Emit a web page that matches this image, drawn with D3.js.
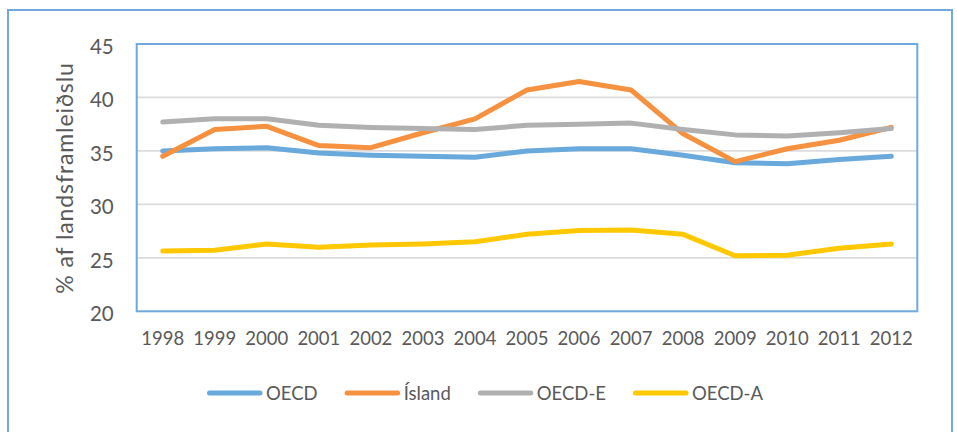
<!DOCTYPE html>
<html>
<head>
<meta charset="utf-8">
<script src="https://cdn.jsdelivr.net/npm/d3@7/dist/d3.min.js"></script>
<style>
  html, body { margin: 0; padding: 0; background: #fff; }
  svg { display: block; font-family: Lato, "Open Sans", sans-serif; }
</style>
</head>
<body>
<svg id="chart" width="957" height="432"></svg>
<script>
// Skatttekjur sem hlutfall af landsframleiðslu, 1998–2012
const years = [1998, 1999, 2000, 2001, 2002, 2003, 2004, 2005, 2006, 2007, 2008, 2009, 2010, 2011, 2012];
const oecd   = [35.0, 35.2, 35.3, 34.8, 34.6, 34.5, 34.4, 35.0, 35.2, 35.2, 34.6, 33.9, 33.8, 34.2, 34.5];
const island = [34.5, 37.0, 37.3, 35.5, 35.3, 36.7, 38.0, 40.7, 41.5, 40.7, 36.6, 34.0, 35.2, 36.0, 37.2];
const oecdE  = [37.7, 38.0, 38.0, 37.4, 37.2, 37.1, 37.0, 37.4, 37.5, 37.6, 37.0, 36.5, 36.4, 36.7, 37.1];
const oecdA  = [25.65, 25.7, 26.3, 26.0, 26.2, 26.3, 26.5, 27.2, 27.55, 27.6, 27.2, 25.2, 25.25, 25.9, 26.3];
const yTicks = [20, 25, 30, 35, 40, 45];
const seriesNames = ["OECD", "Ísland", "OECD-E", "OECD-A"];
const seriesValues = [oecd, island, oecdE, oecdA];
const seriesColors = ["#69a9dc", "#f5913f", "#b0b0b0", "#ffc800"];
const yTitle = "% af landsframleiðslu";

const svg = d3.select("#chart");
const frame = { left: 8, top: 10, right: 952, bottom: 440 };
const plot = { left: 136.7, right: 917.3, top: 44, bottom: 311.3 };
const textColor = "#595959";
const borderBlue = "#70a9dc";

// outer chart frame (runs off the bottom edge)
svg.append("rect")
  .attr("x", frame.left).attr("y", frame.top)
  .attr("width", frame.right - frame.left).attr("height", frame.bottom - frame.top)
  .attr("fill", "#fff").attr("stroke", borderBlue).attr("stroke-width", 2);

const x = d3.scaleBand().domain(years).range([plot.left, plot.right]);
const y = d3.scaleLinear().domain([20, 45]).range([plot.bottom, plot.top]);
const cx = d => x(d) + x.bandwidth() / 2;

// horizontal gridlines
svg.append("g").selectAll("line")
  .data(yTicks.filter(t => t > 20 && t < 45))
  .join("line")
  .attr("x1", plot.left).attr("x2", plot.right)
  .attr("y1", d => y(d)).attr("y2", d => y(d))
  .attr("stroke", "#dcdcdc").attr("stroke-width", 1.8);

// y axis labels
const yAxis = d3.axisLeft(y).tickValues(yTicks).tickSize(0).tickPadding(23);
const gy = svg.append("g").attr("transform", `translate(${plot.left},0)`).call(yAxis);
gy.select(".domain").remove();
gy.selectAll("text")
  .attr("fill", textColor).attr("font-size", 20.5)
  .attr("font-family", "Lato, sans-serif").attr("dy", "0.45em");

// x axis labels
const xAxis = d3.axisBottom(x).tickSize(0).tickPadding(21);
const gx = svg.append("g").attr("transform", `translate(0,${plot.bottom})`).call(xAxis);
gx.select(".domain").remove();
gx.selectAll("text")
  .attr("fill", textColor).attr("font-size", 18.5)
  .attr("font-family", "Lato, sans-serif");

// y axis title
svg.append("text")
  .attr("transform", `translate(73,178) rotate(-90)`)
  .attr("text-anchor", "middle")
  .attr("fill", textColor).attr("font-size", 23)
  .attr("letter-spacing", 0.9)
  .text(yTitle);

// series lines
const line = d3.line().x((d, i) => cx(years[i])).y(d => y(d));
svg.append("g").selectAll("path")
  .data(seriesValues)
  .join("path")
  .attr("d", line)
  .attr("fill", "none")
  .attr("stroke", (d, i) => seriesColors[i])
  .attr("stroke-width", 5)
  .attr("stroke-linejoin", "round")
  .attr("stroke-linecap", "round");

// plot area border
svg.append("rect")
  .attr("x", plot.left).attr("y", plot.top)
  .attr("width", plot.right - plot.left).attr("height", plot.bottom - plot.top)
  .attr("fill", "none").attr("stroke", borderBlue).attr("stroke-width", 2);

// legend, laid out left to right then centred
const legend = svg.append("g");
let cursor = 0;
seriesNames.forEach((name, i) => {
  const item = legend.append("g").attr("transform", `translate(${cursor},0)`);
  item.append("line")
    .attr("x1", 2.5).attr("x2", 53).attr("y1", 0).attr("y2", 0)
    .attr("stroke", seriesColors[i]).attr("stroke-width", 5)
    .attr("stroke-linecap", "round");
  const t = item.append("text")
    .attr("x", 59).attr("y", 0).attr("dy", "0.36em")
    .attr("fill", textColor).attr("font-size", 18.5)
    .text(name);
  cursor += 59 + t.node().getComputedTextLength() + 27;
});
const legendWidth = cursor - 27;
legend.attr("transform", `translate(${485 - legendWidth / 2},393)`);
</script>
</body>
</html>
